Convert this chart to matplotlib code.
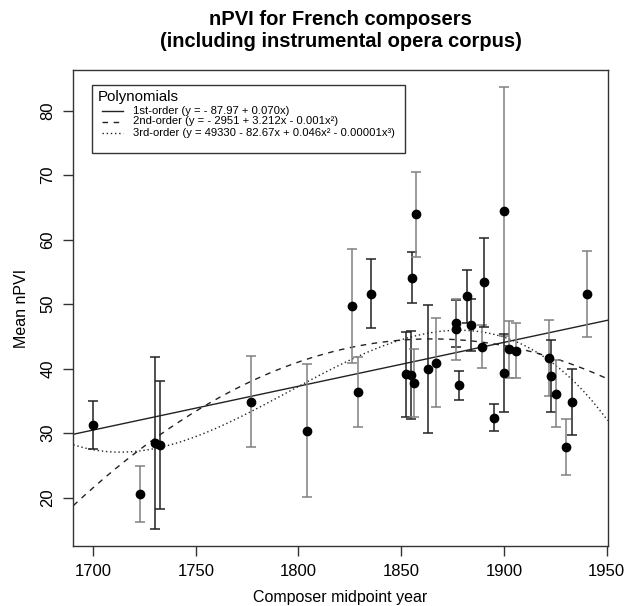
import numpy as np
import matplotlib
matplotlib.use("Agg")
import matplotlib.pyplot as plt
from matplotlib.patches import Rectangle

plt.rcParams['font.family'] = ['Liberation Sans', 'DejaVu Sans']

# composer midpoint year, mean nPVI and half-width of the error bar
years = [1700, 1723, 1730, 1732.5, 1777, 1804, 1826, 1829, 1835.5, 1852.5,
         1855, 1855.5, 1856.5, 1857, 1863, 1867, 1876.5, 1876.5, 1878, 1882,
         1884, 1889.5, 1890.5, 1895, 1900, 1900, 1902.5, 1906, 1922, 1923,
         1925.5, 1930.5, 1933, 1940.5]
means = [31.3, 20.6, 28.5, 28.2, 34.9, 30.4, 49.7, 36.4, 51.6, 39.1,
         39.0, 54.1, 37.8, 63.9, 39.9, 40.9, 47.0, 46.1, 37.4, 51.2,
         46.8, 43.4, 53.4, 32.4, 64.4, 39.3, 43.0, 42.8, 41.6, 38.9,
         36.1, 27.9, 34.8, 51.6]
errs = [3.7, 4.35, 13.3, 9.9, 7.0, 10.3, 8.85, 5.45, 5.35, 6.6,
        6.8, 3.95, 5.3, 6.55, 9.9, 6.9, 3.6, 4.7, 2.25, 4.1,
        4.0, 3.3, 6.9, 2.1, 19.3, 6.0, 4.4, 4.2, 5.9, 5.55,
        5.2, 4.35, 5.1, 6.7]
# which bars are drawn in the lighter grey
grey_bar = [0, 1, 0, 0, 1, 1, 1, 1, 0, 0,
            0, 0, 1, 1, 0, 1, 0, 1, 0, 0,
            0, 1, 0, 0, 1, 0, 1, 1, 1, 0,
            1, 1, 0, 1]

legend_labels = [
    "1st-order (y = - 87.97 + 0.070x)",
    "2nd-order (y = - 2951 + 3.212x - 0.001x\u00b2)",
    "3rd-order (y = 49330 - 82.67x + 0.046x\u00b2 - 0.00001x\u00b3)",
]

x = np.array(years, dtype=float)
y = np.array(means)

W, H = 625, 606
fig = plt.figure(figsize=(6.25, 6.06), dpi=100)
ax = fig.add_axes([0.1174, 0.099, 0.855, 0.7855])


def fx(px):
    return px / W


def fy(py):
    return 1 - py / H


# polynomial fits of order 1..3
grid = np.linspace(1690.4, 1950.6, 400)
styles = ['-', (0, (4, 4)), (0, (1, 2))]
for deg, ls in zip([1, 2, 3], styles):
    coef = np.polyfit(x - 1850, y, deg)
    ax.plot(grid, np.polyval(coef, grid - 1850), color='#222222', lw=1.0, ls=ls)

for xi, yi, ei, g in zip(years, means, errs, grey_bar):
    col = '#808080' if g else '#222222'
    ax.errorbar(xi, yi, yerr=ei, fmt='none', ecolor=col, elinewidth=1.1,
                capsize=3.8, capthick=1.1)
ax.plot(years, means, 'o', color='black', ms=6, zorder=5)

ax.set_xlim(1690.4, 1950.6)
ax.set_ylim(12.5, 86.3)
ax.set_xticks([1700, 1750, 1800, 1850, 1900, 1950])
ax.set_yticks([20, 30, 40, 50, 60, 70, 80])
ax.tick_params(direction='out', length=7, width=1, colors='#333333',
               labelsize=12, labelcolor='black', pad=6)
for lab in ax.get_yticklabels():
    lab.set_rotation(90)
    lab.set_va('center')
for s in ax.spines.values():
    s.set_color('#333333')
    s.set_linewidth(1.0)

ax.set_xlabel("Composer midpoint year", fontsize=11.5, labelpad=8)
ax.set_ylabel("Mean nPVI", fontsize=11.5, labelpad=8)
ax.set_title("nPVI for French composers\n(including instrumental opera corpus)",
             fontsize=14.5, fontweight='bold', pad=16.5, linespacing=1.22)

# legend, laid out by hand like R's legend()
fig.patches.append(Rectangle((fx(92.3), fy(153)), fx(312.7), 68 / H,
                             transform=fig.transFigure, fill=False,
                             edgecolor='#333333', lw=1.0, zorder=6))
fig.text(fx(97.5), fy(96.5), "Polynomials", fontsize=10.8, va='center', ha='left')
for i, (lab, ls) in enumerate(zip(legend_labels, styles)):
    row = 110.5 + i * 11
    fig.add_artist(plt.Line2D([fx(101.7), fx(123.3)], [fy(row), fy(row)],
                              color='#222222', lw=1.0, ls=ls))
    fig.text(fx(133), fy(row), lab, fontsize=8.1, va='center', ha='left')

fig.savefig("out.png", dpi=100)
